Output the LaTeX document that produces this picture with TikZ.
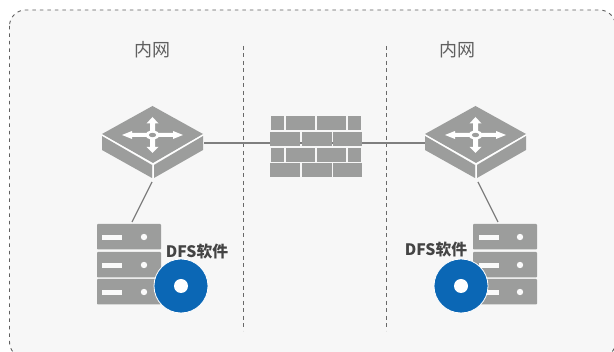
\documentclass[tikz,border=0pt]{standalone}
\usepackage{fontspec}
\newfontfamily\cjk{Noto Sans CJK SC}
\definecolor{panel}{HTML}{F7F7F7}
\definecolor{devgray}{HTML}{9C9D9C}
\definecolor{linkgray}{HTML}{7F7F7F}
\definecolor{discblue}{HTML}{0B67B5}
\definecolor{txt}{HTML}{444444}
\tikzset{
  link/.style={draw=linkgray,line width=1.2pt},
  divider/.style={draw=txt!80,line width=0.9pt,dash pattern=on 4pt off 3.5pt},
  zonelabel/.style={font=\cjk\fontsize{18}{18}\selectfont,text=txt!85,inner sep=0pt},
  dfslabel/.style={font=\cjk\bfseries\fontsize{15.8}{16}\selectfont,text=txt,inner sep=0pt},
  anchorpt/.style={inner sep=0pt,minimum size=0pt},
}
\newcommand{\pxr}[4]{\fill[devgray] (#1,#2) rectangle (#3,#4);}
\newcommand{\swt}[2]{%
  \begin{scope}[shift={(#1,0)}]
    \fill[devgray] (0,134) -- (50.5,106) -- (101,134) -- (51,163) -- cycle;
    \fill[devgray] (0,136) -- (50,165) -- (50,178) -- (0,150) -- cycle;
    \fill[devgray] (52,165) -- (101,136) -- (101,150) -- (52,178) -- cycle;
    \draw[white,line width=0.9pt] (0,135) -- (51,164) -- (101,135);
    \draw[white,line width=0.9pt] (51,164) -- (51,178);
    % arrows
    \fill[white] (50.5,117) -- (56.5,123.5) -- (53,123.5) -- (53,133) -- (48,133) -- (48,123.5) -- (44.5,123.5) -- cycle;
    \fill[white] (50.5,153) -- (56.5,147) -- (53,147) -- (53,137) -- (48,137) -- (48,147) -- (44.5,147) -- cycle;
    \fill[white] (20,135) -- (30,131) -- (30,133) -- (44,133) -- (44,137) -- (30,137) -- (30,139) -- cycle;
    \fill[white] (81,135) -- (71,131) -- (71,133) -- (57,133) -- (57,137) -- (71,137) -- (71,139) -- cycle;
    \fill[white] (50.5,135) ellipse (7 and 4.5);
    \fill[devgray] (50.5,135) ellipse (3.6 and 2.2);
    \node[anchorpt] (#2) at (50.5,142) {};
  \end{scope}}
\newcommand{\srv}[3]{%
  \begin{scope}[shift={(#1,0)}]
    \foreach \yy in {224,252,279} {
      \fill[devgray,rounded corners=0.8pt] (0,\yy) rectangle (64,\yy+25.5);
      \fill[white!95!devgray] (#2,\yy+11) rectangle (#2+19.5,\yy+16);
      \fill[white!95!devgray] (47,\yy+13) circle (3.2);
    }
    \node[anchorpt] (#3) at (32,224) {};
  \end{scope}}
\newcommand{\dsk}[3]{%
  \fill[discblue,draw=white,line width=0.8pt] (#1,#2) circle (27);
  \fill[white] (#1,#2) circle (7);
  \node[anchorpt] (#3) at (#1,#2) {};}
\begin{document}
\begin{tikzpicture}[x=1pt,y=-1pt]
\useasboundingbox (0,0) rectangle (614,352);
\fill[white] (0,0) rectangle (614,352);
\begin{scope}
\clip (0,0) rectangle (614,352);
\draw[fill=panel,draw=txt!85,line width=0.9pt,dash pattern=on 3.5pt off 4pt,rounded corners=16pt] (9.5,10) rectangle (615.5,358);
\end{scope}
\coordinate (d1a) at (243.5,46); \coordinate (d1b) at (243.5,331);
\coordinate (d2a) at (386,46); \coordinate (d2b) at (386,331);
\draw[divider] (d1a) -- (d1b);
\draw[divider] (d2a) -- (d2b);
\node[zonelabel] (zl) at (152.5,50) {内网};
\node[zonelabel] (zr) at (457.5,50) {内网};
\swt{102}{swl}
\swt{425}{swr}
\srv{97}{5}{srl}
\srv{473}{6}{srr}
\node[anchorpt] (fw) at (316,146) {};
\coordinate (swlE) at (204,143); \coordinate (swrW) at (425,143);
\coordinate (fwW) at (271,143); \coordinate (fwE) at (361,143);
\draw[link] (swlE) -- (fwW);
\draw[link] (fwE) -- (swrW);
\draw[link] (fwW) -- (fwE);
\foreach \a/\b in {271/284,286/315,317/346,348/361} {\pxr{\a}{116}{\b}{130}\pxr{\a}{148}{\b}{162}}
\foreach \a/\b in {270/300,302/332,333/362} {\pxr{\a}{132}{\b}{146}\pxr{\a}{163}{\b}{177}}
\coordinate (lA) at (152,182); \coordinate (lB) at (132,222);
\coordinate (rA) at (478,182); \coordinate (rB) at (498,222);
\draw[link] (lA) -- (lB);
\draw[link] (rA) -- (rB);
\dsk{181}{286}{dl}
\dsk{461}{286}{dr}
\node[dfslabel] (tl) at (197,252) {DFS软件};
\node[dfslabel] (tr) at (436,249.5) {DFS软件};
\end{tikzpicture}
\end{document}
